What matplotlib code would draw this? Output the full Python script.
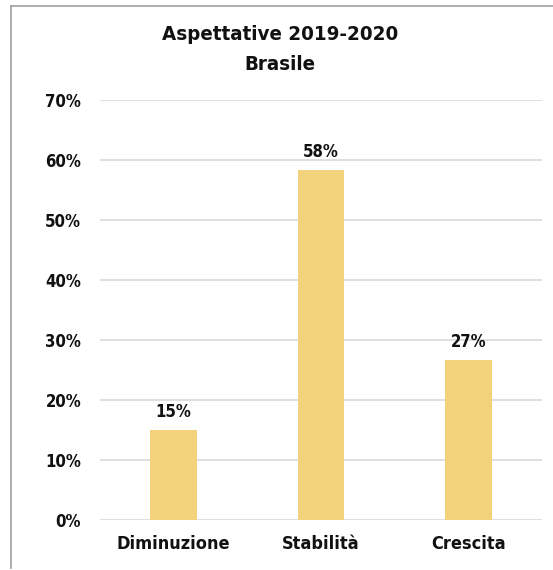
import matplotlib
matplotlib.use("Agg")
import matplotlib.pyplot as plt
from matplotlib.ticker import PercentFormatter, MultipleLocator
from matplotlib.lines import Line2D

categories = ["Diminuzione", "Stabilità", "Crescita"]
values = [0.15, 0.583, 0.267]
title_lines = ["Aspettative 2019-2020", "Brasile"]

bar_color = "#F2D27A"
grid_color = "#D9D9D9"
text_color = "#111111"

plt.rcParams["font.family"] = ["DejaVu Sans"]
plt.rcParams["font.stretch"] = "condensed"
plt.rcParams["font.weight"] = "bold"

W, H = 553, 570
fig = plt.figure(figsize=(W / 100, H / 100), dpi=100)
fig.patch.set_facecolor("white")

# chart frame (top and left edges visible)
fig.add_artist(Line2D([11 / W, 11 / W], [1 - 6 / H, 1 - 568 / H],
                      color="#A6A6A6", lw=1.3, transform=fig.transFigure))
fig.add_artist(Line2D([11 / W, 1.0], [1 - 6 / H, 1 - 6 / H],
                      color="#A6A6A6", lw=1.3, transform=fig.transFigure))

left, right = 100 / W, 542 / W
top, bottom = 1 - 100 / H, 1 - 520 / H
ax = fig.add_axes([left, bottom, right - left, top - bottom])

x = range(len(categories))
bars = ax.bar(x, values, width=0.315, color=bar_color, zorder=3)

ax.set_xlim(-0.5, len(categories) - 0.5)
ax.set_ylim(0, 0.70)
ax.yaxis.set_major_locator(MultipleLocator(0.10))
ax.yaxis.set_major_formatter(PercentFormatter(1.0, decimals=0))
ax.set_xticks(list(x))
ax.set_xticklabels(categories)

ax.grid(axis="y", color=grid_color, lw=1.2, zorder=0)
for s in ax.spines.values():
    s.set_visible(False)
ax.tick_params(axis="both", length=0, colors=text_color)
ax.tick_params(axis="y", pad=13.5, labelsize=12)
ax.tick_params(axis="x", pad=11, labelsize=13)

for rect, v in zip(bars, values):
    ax.annotate(f"{v:.0%}", (rect.get_x() + rect.get_width() / 2, v),
                xytext=(0, 6.5), textcoords="offset points",
                ha="center", va="bottom", fontsize=12,
                fontweight="bold", color=text_color)

fig.text(280 / W, 1 - 35 / H, title_lines[0], ha="center", va="center",
         fontsize=14.7, fontweight="bold", color=text_color)
fig.text(280 / W, 1 - 64 / H, title_lines[1], ha="center", va="center",
         fontsize=14.7, fontweight="bold", color=text_color)

fig.savefig("out.png", dpi=100, facecolor="white")
